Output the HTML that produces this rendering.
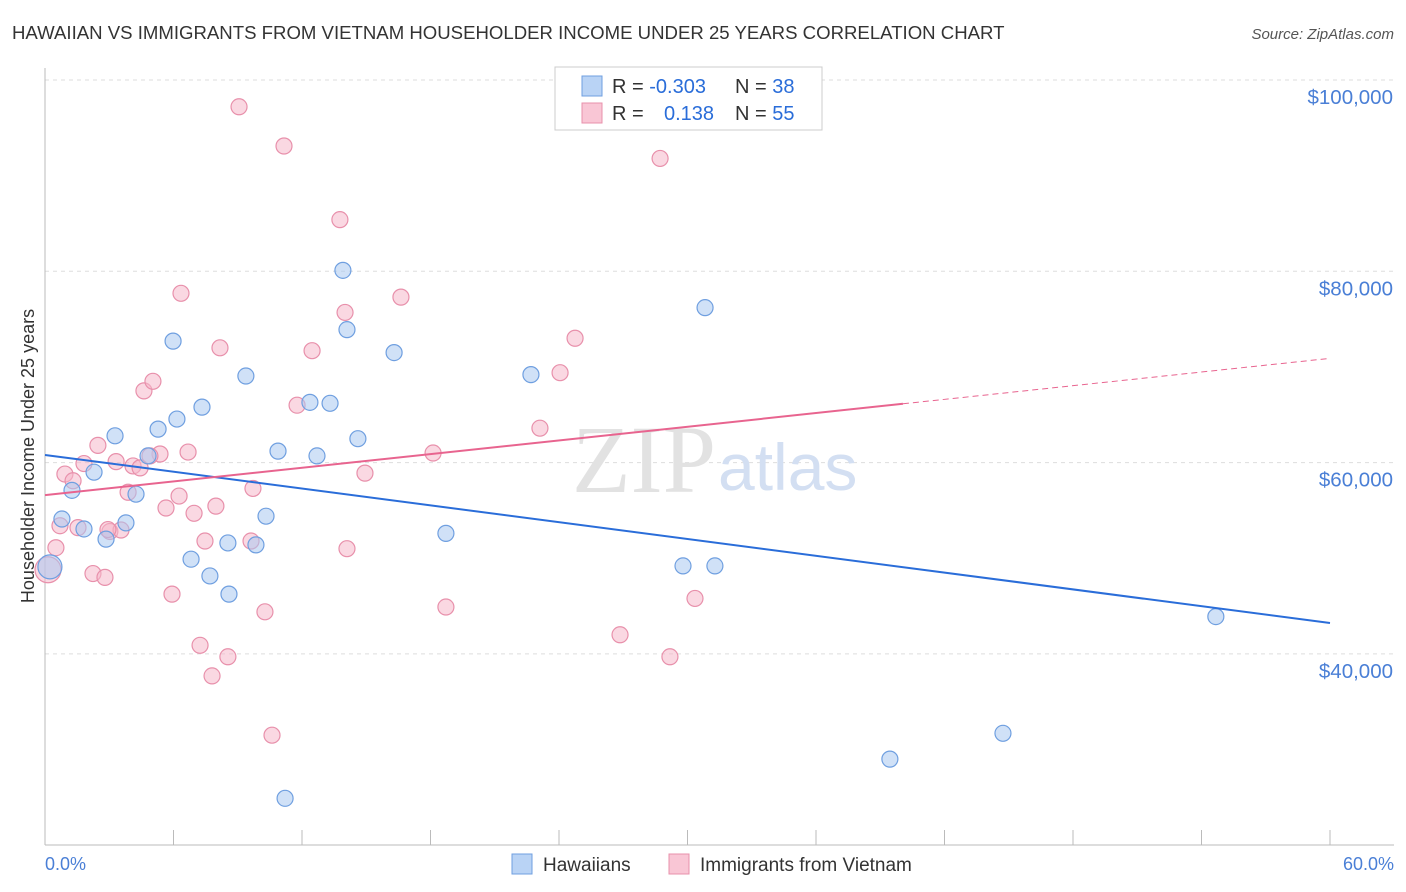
<!DOCTYPE html>
<html><head><meta charset="utf-8"><style>
body{margin:0;background:#fff;font-family:"Liberation Sans",sans-serif;}
svg{display:block}
</style></head><body>
<svg id="chart" width="1406" height="892" viewBox="0 0 1406 892">
<text x="12" y="39" font-size="18.6" fill="#333">HAWAIIAN VS IMMIGRANTS FROM VIETNAM HOUSEHOLDER INCOME UNDER 25 YEARS CORRELATION CHART</text>
<text x="1394" y="39" font-size="15" fill="#555" font-style="italic" text-anchor="end">Source: ZipAtlas.com</text>
<g id="grid"></g>
<line x1="45" y1="68" x2="45" y2="845" stroke="#bbb"/>
<line x1="45" y1="845" x2="1394" y2="845" stroke="#bbb"/>
<g id="xticks"></g>
<text x="716" y="492" font-size="96" fill="#e2e2e2" text-anchor="end" font-family="Liberation Serif">ZIP</text>
<text x="718" y="490" font-size="66" fill="#d3dff2">atlas</text>
<g id="pts"></g>
<g id="lines"></g>
<text transform="translate(34,456) rotate(-90)" font-size="18" fill="#333" text-anchor="middle">Householder Income Under 25 years</text>
<text x="45" y="870" font-size="18" fill="#4a7fd6">0.0%</text>
<text x="1394" y="870" font-size="18" fill="#4a7fd6" text-anchor="end">60.0%</text>
<g>
<rect x="555" y="67" width="267" height="63" fill="#fff" stroke="#ccc"/>
<rect x="582" y="76" width="20" height="20" fill="#b9d3f5" stroke="#6f9fe0"/>
<rect x="582" y="103" width="20" height="20" fill="#f9c6d5" stroke="#e890ab"/>
<text x="612" y="93" font-size="20" fill="#333">R = <tspan fill="#2a6dd9">-0.303</tspan><tspan x="735">N = </tspan><tspan fill="#2a6dd9">38</tspan></text>
<text x="612" y="120" font-size="20" fill="#333">R = <tspan x="664" fill="#2a6dd9">0.138</tspan><tspan x="735">N = </tspan><tspan fill="#2a6dd9">55</tspan></text>
</g>
<g>
<rect x="512" y="854" width="20" height="20" fill="#b9d3f5" stroke="#6f9fe0"/>
<text x="543" y="871" font-size="19" fill="#333">Hawaiians</text>
<rect x="669" y="854" width="20" height="20" fill="#f9c6d5" stroke="#e890ab"/>
<text x="700" y="871" font-size="19" fill="#333">Immigrants from Vietnam</text>
</g>
</svg>
<script>
const yTicks=[40000,60000,80000,100000];
const yTickLabels=["$40,000","$60,000","$80,000","$100,000"];
const xTicks=[0,6,12,18,24,30,36,42,48,54,60];
const blueX=[0.23,0.79,1.26,1.82,2.29,2.85,3.27,3.78,4.25,4.81,5.28,5.98,6.16,6.82,7.33,7.70,8.54,8.59,9.38,9.85,10.32,10.88,11.21,12.37,12.70,13.31,13.91,14.10,14.61,16.30,18.72,22.69,29.79,30.82,31.28,39.45,44.73,54.67];
const blueY=[49100,54100,57100,53060,59000,52000,62800,53700,56700,60700,63500,72700,64550,49900,65800,48150,51600,46250,69050,51400,54400,61200,24900,66300,60700,66200,80100,73900,62500,71500,52600,69200,49200,76200,49200,29000,31700,43900];
const pinkX=[0.14,0.51,0.70,0.93,1.31,1.82,2.24,2.47,2.80,3.03,3.32,3.55,3.88,4.11,4.44,4.62,5.04,5.37,5.65,5.93,6.26,6.35,6.68,6.96,7.24,7.47,7.80,7.98,8.17,8.54,9.06,9.62,9.71,10.27,10.60,11.16,11.77,12.47,13.77,14.01,14.10,14.94,16.62,18.12,18.72,23.11,24.05,24.75,26.85,28.72,29.18,30.35,1.54,4.90,2.94];
const pinkY=[48800,51100,53400,58800,58100,59900,48400,61800,48000,52800,60100,52950,56900,59650,59450,67500,68500,60900,55250,46250,56500,77700,61100,54700,40900,51800,37700,55450,72000,39700,97200,51800,57300,44400,31500,93100,66000,71700,85400,75700,51000,58900,77300,61000,44900,63600,69400,73000,42000,91800,39700,45800,53200,60700,53000];
const blueTrend=[60800,43230];
const pinkTrend=[56600,70900];
const pinkSolidEnd=40.06;
const NS="http://www.w3.org/2000/svg";
const X=v=>45+v/60*1285;
const Y=v=>80+(100000-v)/20000*191.3;
function mk(t,a,p){const e=document.createElementNS(NS,t);for(const k in a)e.setAttribute(k,a[k]);p.appendChild(e);return e;}
const grid=document.getElementById('grid');
yTicks.forEach((t,i)=>{
 const l=mk('line',{x1:45,x2:1394,y1:Y(t),y2:Y(t),stroke:'#ddd','stroke-dasharray':'4,4'},grid);
 
 
 const tx=mk('text',{x:1393,y:Y(t)+24,'font-size':20.5,fill:'#4a7fd6','text-anchor':'end'},grid);
 tx.textContent=yTickLabels[i];
 
 
});
const xt=document.getElementById('xticks');
xTicks.forEach(t=>{
 const l=mk('line',{x1:X(t),x2:X(t),y1:830,y2:845,stroke:'#bbb'},xt);
 
 
});
const pts=document.getElementById('pts');
pinkX.forEach((x,i)=>{
 const c=mk('circle',{cx:X(x),cy:Y(pinkY[i]),r:i==0?13:8,fill:'#f5b8cb','fill-opacity':0.55,stroke:'#e890ab','stroke-width':1.2},pts);
 
 
});
blueX.forEach((x,i)=>{
 const c=mk('circle',{cx:X(x),cy:Y(blueY[i]),r:i==0?12:8,fill:'#a9c8f0','fill-opacity':0.55,stroke:'#6f9fe0','stroke-width':1.2},pts);
 
 
});
const ln=document.getElementById('lines');
const b=mk('line',{x1:X(0),y1:Y(blueTrend[0]),x2:X(60),y2:Y(blueTrend[1]),stroke:'#2a6dd9','stroke-width':2},ln);


const py=x=>pinkTrend[0]+(pinkTrend[1]-pinkTrend[0])*x/60;
const p1=mk('line',{x1:X(0),y1:Y(pinkTrend[0]),x2:X(pinkSolidEnd),y2:Y(py(pinkSolidEnd)),stroke:'#e8648f','stroke-width':2},ln);


const p2=mk('line',{x1:X(pinkSolidEnd),y1:Y(py(pinkSolidEnd)),x2:X(60),y2:Y(pinkTrend[1]),stroke:'#e8648f','stroke-width':1,'stroke-dasharray':'6,4'},ln);


</script>
</body></html>
